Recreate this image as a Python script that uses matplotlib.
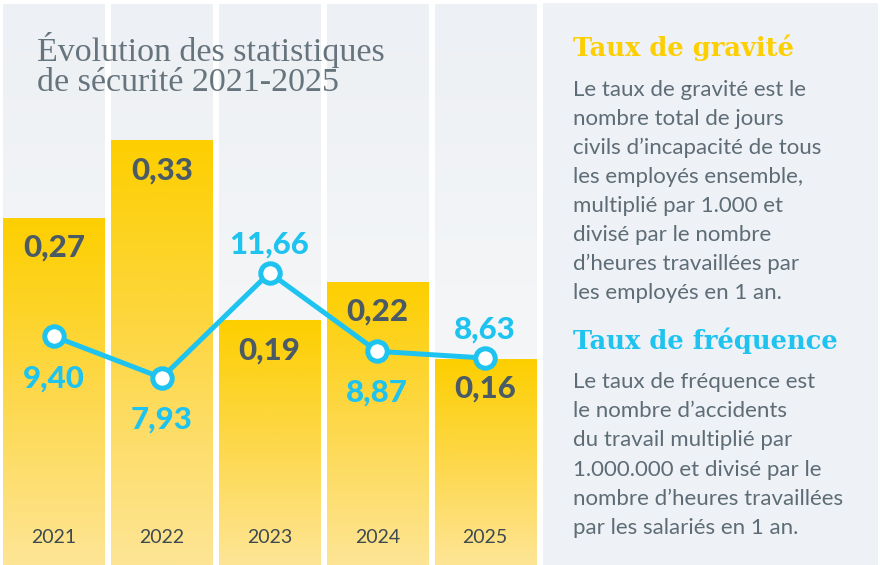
import numpy as np
import matplotlib
matplotlib.use("Agg")
import matplotlib.pyplot as plt
from matplotlib.colors import LinearSegmentedColormap
from matplotlib.patches import Rectangle

# ---------------- data ----------------
years = ["2021", "2022", "2023", "2024", "2025"]
taux_gravite = [0.27, 0.33, 0.19, 0.22, 0.16]
taux_frequence = [9.40, 7.93, 11.66, 8.87, 8.63]
gravite_labels = ["0,27", "0,33", "0,19", "0,22", "0,16"]
frequence_labels = ["9,40", "7,93", "11,66", "8,87", "8,63"]
freq_label_above = [False, False, True, False, True]

title_lines = ["Évolution des statistiques", "de sécurité 2021-2025"]
head1 = "Taux de gravité"
body1 = ["Le taux de gravité est le", "nombre total de jours",
         "civils d’incapacité de tous", "les employés ensemble,",
         "multiplié par 1.000 et", "divisé par le nombre",
         "d’heures travaillées par", "les employés en 1 an."]
head2 = "Taux de fréquence"
body2 = ["Le taux de fréquence est", "le nombre d’accidents",
         "du travail multiplié par", "1.000.000 et divisé par le",
         "nombre d’heures travaillées", "par les salariés en 1 an."]

# ---------------- style ----------------
GOLD = "#fdcf00"
CYAN = "#1ec3ef"
SLATE = "#4b5b66"
BODY = "#5d6c76"
W, H = 880, 565

fig = plt.figure(figsize=(W / 100, H / 100), dpi=100)
fig.patch.set_facecolor("white")

# right info panel
fig.patches.append(Rectangle((543 / W, 0), (878 - 543) / W, 1 - 3 / H,
                             transform=fig.transFigure, facecolor="#eef1f5",
                             edgecolor="none", zorder=0))

ax = fig.add_axes([0, 0, 539 / W, 1])
ax.set_xlim(-0.5, 4.5)
ax.set_ylim(-0.0016, 0.4374)
ax.axis("off")
x = np.arange(len(years))
bw = 0.937

bg_cmap = LinearSegmentedColormap.from_list("bg", ["#edf0f4", "#f3f5f7", "#f8f9fa"])
bar_cmap = LinearSegmentedColormap.from_list("bar", [GOLD, "#fdd84a", "#fee596"])
grad = np.linspace(0, 1, 256).reshape(-1, 1)

# column backgrounds
bg = ax.bar(x, [0.4358] * len(years), width=bw, bottom=-0.0016,
            color="none", edgecolor="none", zorder=1)
for p in bg:
    x0, y0 = p.get_x(), p.get_y()
    im = ax.imshow(grad, cmap=bg_cmap, aspect="auto", origin="upper",
                   extent=(x0, x0 + p.get_width(), y0, y0 + p.get_height()),
                   zorder=1)
    im.set_clip_path(p)

# gravity bars with gradient
bars = ax.bar(x, taux_gravite, width=bw, bottom=-0.0016, color="none",
              edgecolor="none", zorder=2)
for p in bars:
    x0, y0 = p.get_x(), p.get_y()
    im = ax.imshow(grad, cmap=bar_cmap, aspect="auto", origin="upper",
                   extent=(x0, x0 + p.get_width(), y0, y0 + p.get_height()),
                   zorder=2)
    im.set_clip_path(p)
ax.set_xlim(-0.5, 4.5)
ax.set_ylim(-0.0016, 0.4374)

for xi, v, lab in zip(x, taux_gravite, gravite_labels):
    ax.annotate(lab, (xi, v), xytext=(0, -23), textcoords="offset points",
                ha="center", va="center", fontsize=22.5, fontweight="black",
                family="Lato", color=SLATE, zorder=5)

for xi, yr in zip(x, years):
    ax.annotate(yr, (xi, 0), xytext=(0, 18.5), textcoords="offset points",
                ha="center", va="center", fontsize=14, family="Lato",
                color="#3e4a52", zorder=5)

# frequency line
ax2 = ax.twinx()
ax2.set_ylim(1.279, 21.35)
ax2.axis("off")
ax2.plot(x, taux_frequence, color=CYAN, lw=3.6, marker="o", ms=14,
         mfc="white", mec=CYAN, mew=3.6, zorder=6, solid_joinstyle="miter")
for xi, v, lab, above in zip(x, taux_frequence, frequence_labels, freq_label_above):
    dy = 20.5 if above else -30
    ax2.annotate(lab, (xi, v), xytext=(0, dy), textcoords="offset points",
                 ha="center", va="center", fontsize=22.5, fontweight="black",
                 family="Lato", color=CYAN, zorder=7)

# title
for i, line in enumerate(title_lines):
    fig.text(37 / W, 1 - (50 + 33 * i) / H, line, ha="left", va="center",
             fontsize=24.5, family="Liberation Serif", color="#66747d", zorder=8)

# right panel texts
fig.text(573 / W, 1 - 48 / H, head1, ha="left", va="center", fontsize=18.5,
         fontweight="bold", family="DejaVu Serif", color=GOLD)
for i, line in enumerate(body1):
    fig.text(573 / W, 1 - (90 + 29 * i) / H, line, ha="left", va="center",
             fontsize=16, family="Lato", color=BODY)
fig.text(573 / W, 1 - 341 / H, head2, ha="left", va="center", fontsize=18.5,
         fontweight="bold", family="DejaVu Serif", color=CYAN)
for i, line in enumerate(body2):
    fig.text(573 / W, 1 - (382 + 29.2 * i) / H, line, ha="left", va="center",
             fontsize=16, family="Lato", color=BODY)

fig.savefig("out.png", dpi=100)
